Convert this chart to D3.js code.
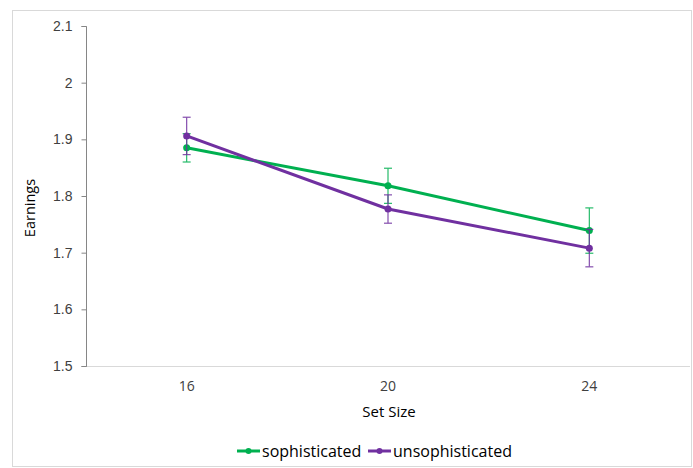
<!DOCTYPE html>
<html><head><meta charset="utf-8">
<script src="https://cdn.jsdelivr.net/npm/d3@7"></script>
<style>body{margin:0;background:#fff;} svg{display:block;font-family:"Open Sans","Noto Sans",sans-serif;}</style>
</head><body>
<script>
const categories = ["16", "20", "24"];
const sophisticated = [1.885, 1.818, 1.739];
const sophisticatedErr = [0.025, 0.031, 0.040];
const unsophisticated = [1.906, 1.777, 1.708];
const unsophisticatedErr = [0.033, 0.025, 0.033];
const yTicks = [1.5, 1.6, 1.7, 1.8, 1.9, 2, 2.1];
const seriesNames = ["sophisticated", "unsophisticated"];
const colors = ["#00B050", "#7030A0"];

const W = 693, H = 468;
const svg = d3.select("body").append("svg").attr("width", W).attr("height", H);
svg.append("rect").attr("x", 12.5).attr("y", 10.5).attr("width", 679).attr("height", 456)
  .attr("fill", "#fff").attr("stroke", "#d9d9d9");

const x = d3.scaleBand().domain(categories).range([86, 690]);
const y = d3.scaleLinear().domain([1.5, 2.1]).range([366, 26]);

// x axis line
svg.append("line").attr("x1", 86).attr("x2", 690).attr("y1", 366.5).attr("y2", 366.5)
  .attr("stroke", "#d9d9d9");
// y axis
const ya = svg.append("g").attr("transform", "translate(86.5,0)")
  .call(d3.axisLeft(y).tickValues(yTicks).tickSize(5).tickPadding(9).tickFormat(d3.format("")));
ya.select(".domain").attr("stroke", "#868686").attr("d", "M-5,26.5H0V366.5H-5");
ya.selectAll(".tick line").attr("stroke", "#868686");
ya.selectAll("text").attr("font-size", 14).attr("fill", "#404040");

// x labels
svg.append("g").selectAll("text").data(categories).join("text")
  .attr("x", d => x(d) + x.bandwidth() / 2).attr("y", 391)
  .attr("text-anchor", "middle").attr("font-size", 14).attr("fill", "#404040").text(d => d);

// axis titles
svg.append("text").attr("x", 389).attr("y", 417).attr("text-anchor", "middle")
  .attr("font-size", 15).attr("fill", "#000").text("Set Size");
svg.append("text").attr("transform", "translate(35,208) rotate(-90)").attr("text-anchor", "middle")
  .attr("font-size", 14.5).attr("fill", "#000").text("Earnings");

const series = [
  {name: seriesNames[0], vals: sophisticated, err: sophisticatedErr, color: colors[0]},
  {name: seriesNames[1], vals: unsophisticated, err: unsophisticatedErr, color: colors[1]}
];
const cx = d => x(d) + x.bandwidth() / 2;

series.forEach(s => {
  const g = svg.append("g");
  const pts = categories.map((c, i) => ({c, v: s.vals[i], e: s.err[i]}));
  // error bars
  pts.forEach(p => {
    const eg = g.append("g").attr("stroke", s.color).attr("stroke-width", 1.2).attr("opacity", 0.85);
    eg.append("line").attr("x1", cx(p.c)).attr("x2", cx(p.c)).attr("y1", y(p.v + p.e)).attr("y2", y(p.v - p.e));
    eg.append("line").attr("x1", cx(p.c) - 4).attr("x2", cx(p.c) + 4).attr("y1", y(p.v + p.e)).attr("y2", y(p.v + p.e));
    eg.append("line").attr("x1", cx(p.c) - 4).attr("x2", cx(p.c) + 4).attr("y1", y(p.v - p.e)).attr("y2", y(p.v - p.e));
  });
  g.append("path").datum(pts)
    .attr("d", d3.line().x(p => cx(p.c)).y(p => y(p.v)))
    .attr("fill", "none").attr("stroke", s.color).attr("stroke-width", 3).attr("stroke-linejoin", "round");
  g.selectAll("circle").data(pts).join("circle")
    .attr("cx", p => cx(p.c)).attr("cy", p => y(p.v)).attr("r", 3.5).attr("fill", s.color);
});

// legend
const legendX = [237, 368];
series.forEach((s, i) => {
  const lg = svg.append("g").attr("transform", `translate(${legendX[i]},451)`);
  lg.append("line").attr("x1", 0).attr("x2", 23).attr("stroke", s.color).attr("stroke-width", 3);
  lg.append("circle").attr("cx", 11.5).attr("r", 3).attr("fill", s.color);
  lg.append("text").attr("x", 25).attr("y", 5.5).attr("font-size", 16).attr("fill", "#000").text(s.name);
});
</script>
</body></html>
